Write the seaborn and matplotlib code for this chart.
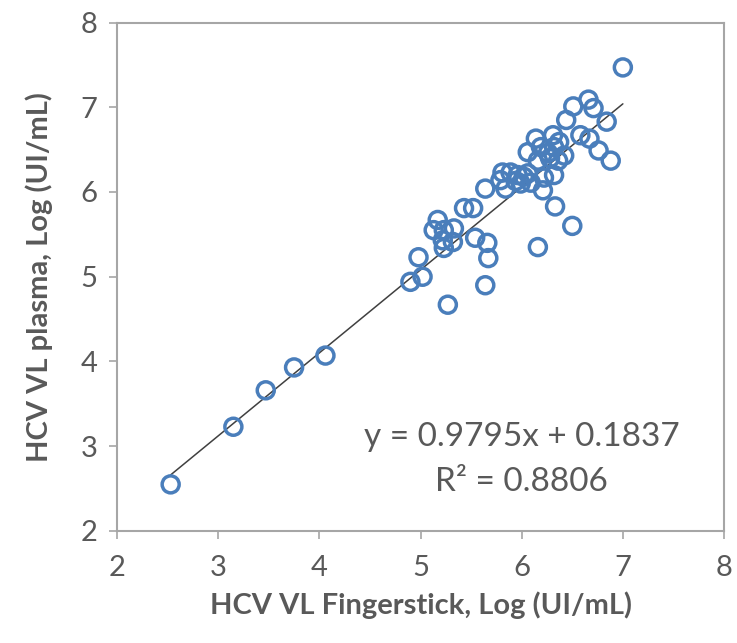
import matplotlib
matplotlib.use('Agg')
import matplotlib.pyplot as plt
import seaborn as sns
import numpy as np
import pandas as pd

# fingerstick vs plasma viral load (log)
fingerstick = [2.53, 3.15, 3.47, 3.75, 4.06, 4.90, 4.98, 5.02, 5.13, 5.17,
               5.23, 5.33, 5.22, 5.32, 5.23, 5.27, 5.43, 5.52, 5.54, 5.66,
               5.67, 5.64, 5.64, 5.81, 5.89, 5.79, 5.84, 5.96, 5.99, 6.06,
               6.09, 6.06, 6.14, 6.19, 6.26, 6.16, 6.31, 6.37, 6.42, 6.36,
               6.22, 6.32, 6.21, 6.33, 6.50, 6.16, 6.44, 6.51, 6.58, 6.66,
               6.71, 6.84, 6.67, 6.76, 6.88, 7.00, 6.32, 6.28, 5.94, 6.02]
plasma = [2.55, 3.23, 3.66, 3.93, 4.07, 4.94, 5.23, 5.00, 5.55, 5.67,
          5.55, 5.57, 5.43, 5.41, 5.34, 4.67, 5.81, 5.81, 5.46, 5.40,
          5.22, 4.90, 6.04, 6.23, 6.23, 6.14, 6.04, 6.20, 6.10, 6.22,
          6.11, 6.47, 6.63, 6.53, 6.46, 6.37, 6.67, 6.59, 6.43, 6.37,
          6.17, 6.20, 6.02, 5.83, 5.60, 5.35, 6.85, 7.01, 6.67, 7.09,
          6.99, 6.83, 6.63, 6.49, 6.37, 7.47, 6.53, 6.40, 6.13, 6.18]

slope = 0.9795
intercept = 0.1837
r_squared = 0.8806

df = pd.DataFrame({"finger": fingerstick, "plasma": plasma})

blue = "#4a7ebb"
grey_txt = "#595959"
frame = "#a6a6a6"

sns.set_theme(style="white")
plt.rcParams['font.family'] = ['Lato', 'DejaVu Sans']

fig = plt.figure(figsize=(7.37, 6.43), dpi=100)
ax = fig.add_axes([0.1588, 0.1742, 0.8236, 0.7908])

sns.scatterplot(data=df, x="finger", y="plasma", ax=ax, s=150,
                facecolors="none", edgecolor=blue, linewidth=2.5, zorder=3)

# trend line over the range of the data
xs = np.array([df["finger"].min(), df["finger"].max()])
line_df = pd.DataFrame({"x": xs, "y": slope * xs + intercept})
sns.lineplot(data=line_df, x="x", y="y", ax=ax, color="#404040",
             linewidth=1.1, zorder=2)

ax.set_xlim(2, 8)
ax.set_ylim(2, 8)
ax.set_xticks(range(2, 9))
ax.set_yticks(range(2, 9))

for sp in ax.spines.values():
    sp.set_color(frame)
    sp.set_linewidth(1.5)

ax.tick_params(axis="both", which="both", direction="out", length=6,
               width=1.2, color=frame, labelsize=21, labelcolor=grey_txt,
               bottom=True, left=True)
ax.tick_params(axis="x", pad=11)
ax.tick_params(axis="y", pad=8)

ax.set_xlabel("HCV VL Fingerstick, Log (UI/mL)", fontsize=21,
              fontweight="bold", color=grey_txt, labelpad=8)
ax.set_ylabel("HCV VL plasma, Log (UI/mL)", fontsize=21,
              fontweight="bold", color=grey_txt, labelpad=20)

ax.text(6.0, 3.11, f"y = {slope}x + {intercept}", fontsize=24,
        color=grey_txt, ha="center", va="center")
ax.text(6.0, 2.58, f"R² = {r_squared}", fontsize=24,
        color=grey_txt, ha="center", va="center")

fig.savefig("out.png", dpi=100)
plt.close(fig)
